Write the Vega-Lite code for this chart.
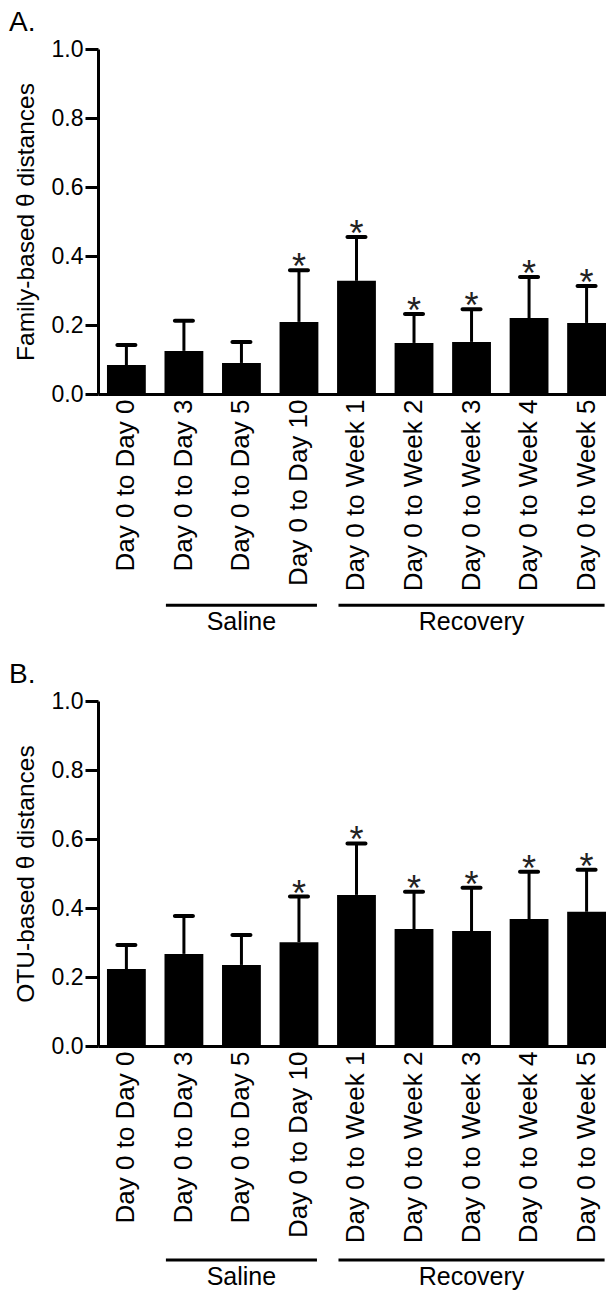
{
  "$schema": "https://vega.github.io/schema/vega-lite/v6.json",
  "padding": {"left": 9, "top": 9, "right": 0, "bottom": 0},
  "background": "white",
  "spacing": 26,
  "config": {
    "view": {"stroke": null},
    "font": "Liberation Sans",
    "tick": {"opacity": 1},
    "axis": {"domainColor": "black", "domainWidth": 3, "tickColor": "black", "tickWidth": 3, "labelColor": "black", "titleColor": "black", "labelFont": "Liberation Sans", "titleFont": "Liberation Sans", "grid": false, "titleFontWeight": "normal"},
    "title": {"font": "Liberation Sans", "fontSize": 28, "fontWeight": "normal", "color": "black", "anchor": "start", "frame": "bounds", "offset": 1, "dx": -4}
  },
  "datasets": {
    "A": [
      {"cond": "Day 0 to Day 0", "mean": 0.084, "upper": 0.142, "star": ""},
      {"cond": "Day 0 to Day 3", "mean": 0.125, "upper": 0.212, "star": ""},
      {"cond": "Day 0 to Day 5", "mean": 0.090, "upper": 0.151, "star": ""},
      {"cond": "Day 0 to Day 10", "mean": 0.209, "upper": 0.359, "star": "*"},
      {"cond": "Day 0 to Week 1", "mean": 0.328, "upper": 0.455, "star": "*"},
      {"cond": "Day 0 to Week 2", "mean": 0.148, "upper": 0.232, "star": "*"},
      {"cond": "Day 0 to Week 3", "mean": 0.151, "upper": 0.246, "star": "*"},
      {"cond": "Day 0 to Week 4", "mean": 0.220, "upper": 0.339, "star": "*"},
      {"cond": "Day 0 to Week 5", "mean": 0.206, "upper": 0.313, "star": "*"}
    ],
    "B": [
      {"cond": "Day 0 to Day 0", "mean": 0.223, "upper": 0.293, "star": ""},
      {"cond": "Day 0 to Day 3", "mean": 0.267, "upper": 0.377, "star": ""},
      {"cond": "Day 0 to Day 5", "mean": 0.235, "upper": 0.322, "star": ""},
      {"cond": "Day 0 to Day 10", "mean": 0.301, "upper": 0.433, "star": "*"},
      {"cond": "Day 0 to Week 1", "mean": 0.438, "upper": 0.587, "star": "*"},
      {"cond": "Day 0 to Week 2", "mean": 0.339, "upper": 0.447, "star": "*"},
      {"cond": "Day 0 to Week 3", "mean": 0.333, "upper": 0.459, "star": "*"},
      {"cond": "Day 0 to Week 4", "mean": 0.368, "upper": 0.505, "star": "*"},
      {"cond": "Day 0 to Week 5", "mean": 0.389, "upper": 0.511, "star": "*"}
    ],
    "groups": [
      {"cond": "Day 0 to Day 3", "cond_end": "Day 0 to Day 10", "label_at": "Day 0 to Day 5", "name": "Saline"},
      {"cond": "Day 0 to Week 1", "cond_end": "Day 0 to Week 5", "label_at": "Day 0 to Week 3", "name": "Recovery"}
    ]
  },
  "vconcat": [
    {
      "title": {"text": "A."},
      "width": 508,
      "height": 345,
      "layer": [
        {
          "data": {"name": "A"},
          "mark": {"type": "bar", "color": "black"},
          "encoding": {
            "x": {"field": "cond", "type": "nominal",
              "scale": {"domain": ["Day 0 to Day 0", "Day 0 to Day 3", "Day 0 to Day 5", "Day 0 to Day 10", "Day 0 to Week 1", "Day 0 to Week 2", "Day 0 to Week 3", "Day 0 to Week 4", "Day 0 to Week 5"], "paddingInner": 0.325, "paddingOuter": 0.078, "align": 1},
              "axis": {"title": null, "labelAngle": 270, "labelAlign": "right", "labelBaseline": "middle", "labelFontSize": 26, "labelPadding": 5, "ticks": false, "labelLimit": 0}},
            "y": {"field": "mean", "type": "quantitative",
              "scale": {"domain": [0, 1], "nice": false},
              "axis": {"title": "Family-based θ distances", "values": [0, 0.2, 0.4, 0.6, 0.8, 1], "format": ".1f", "tickSize": 13, "labelFontSize": 23, "labelPadding": 2, "titleFontSize": 24.5, "titlePadding": 13}}
          }
        },
        {
          "data": {"name": "A"},
          "mark": {"type": "rule", "strokeWidth": 3, "color": "black"},
          "encoding": {
            "x": {"field": "cond", "type": "nominal"},
            "y": {"field": "mean", "type": "quantitative"},
            "y2": {"field": "upper"}
          }
        },
        {
          "data": {"name": "A"},
          "mark": {"type": "tick", "size": 22, "thickness": 4, "color": "black", "opacity": 1, "cornerRadius": 2},
          "encoding": {
            "x": {"field": "cond", "type": "nominal"},
            "y": {"field": "upper", "type": "quantitative"}
          }
        },
        {
          "data": {"name": "A"},
          "mark": {"type": "text", "fontSize": 36, "baseline": "alphabetic", "dy": 9, "color": "#222222"},
          "encoding": {
            "x": {"field": "cond", "type": "nominal"},
            "y": {"field": "upper", "type": "quantitative"},
            "text": {"field": "star"}
          }
        },
        {
          "data": {"name": "groups"},
          "mark": {"type": "rule", "strokeWidth": 3, "color": "black", "xOffset": -18, "x2Offset": 18},
          "encoding": {
            "x": {"field": "cond", "type": "nominal"},
            "x2": {"field": "cond_end"},
            "y": {"datum": -0.612, "type": "quantitative"}
          }
        },
        {
          "data": {"name": "groups"},
          "mark": {"type": "text", "fontSize": 25, "baseline": "middle", "color": "black"},
          "encoding": {
            "x": {"field": "label_at", "type": "nominal"},
            "y": {"datum": -0.66, "type": "quantitative"},
            "text": {"field": "name"}
          }
        }
      ]
    },
    {
      "title": {"text": "B."},
      "width": 508,
      "height": 345,
      "layer": [
        {
          "data": {"name": "B"},
          "mark": {"type": "bar", "color": "black"},
          "encoding": {
            "x": {"field": "cond", "type": "nominal",
              "scale": {"domain": ["Day 0 to Day 0", "Day 0 to Day 3", "Day 0 to Day 5", "Day 0 to Day 10", "Day 0 to Week 1", "Day 0 to Week 2", "Day 0 to Week 3", "Day 0 to Week 4", "Day 0 to Week 5"], "paddingInner": 0.325, "paddingOuter": 0.078, "align": 1},
              "axis": {"title": null, "labelAngle": 270, "labelAlign": "right", "labelBaseline": "middle", "labelFontSize": 26, "labelPadding": 5, "ticks": false, "labelLimit": 0}},
            "y": {"field": "mean", "type": "quantitative",
              "scale": {"domain": [0, 1], "nice": false},
              "axis": {"title": "OTU-based θ distances", "values": [0, 0.2, 0.4, 0.6, 0.8, 1], "format": ".1f", "tickSize": 13, "labelFontSize": 23, "labelPadding": 2, "titleFontSize": 24.5, "titlePadding": 13}}
          }
        },
        {
          "data": {"name": "B"},
          "mark": {"type": "rule", "strokeWidth": 3, "color": "black"},
          "encoding": {
            "x": {"field": "cond", "type": "nominal"},
            "y": {"field": "mean", "type": "quantitative"},
            "y2": {"field": "upper"}
          }
        },
        {
          "data": {"name": "B"},
          "mark": {"type": "tick", "size": 22, "thickness": 4, "color": "black", "opacity": 1, "cornerRadius": 2},
          "encoding": {
            "x": {"field": "cond", "type": "nominal"},
            "y": {"field": "upper", "type": "quantitative"}
          }
        },
        {
          "data": {"name": "B"},
          "mark": {"type": "text", "fontSize": 36, "baseline": "alphabetic", "dy": 9, "color": "#222222"},
          "encoding": {
            "x": {"field": "cond", "type": "nominal"},
            "y": {"field": "upper", "type": "quantitative"},
            "text": {"field": "star"}
          }
        },
        {
          "data": {"name": "groups"},
          "mark": {"type": "rule", "strokeWidth": 3, "color": "black", "xOffset": -18, "x2Offset": 18},
          "encoding": {
            "x": {"field": "cond", "type": "nominal"},
            "x2": {"field": "cond_end"},
            "y": {"datum": -0.62, "type": "quantitative"}
          }
        },
        {
          "data": {"name": "groups"},
          "mark": {"type": "text", "fontSize": 25, "baseline": "middle", "color": "black"},
          "encoding": {
            "x": {"field": "label_at", "type": "nominal"},
            "y": {"datum": -0.67, "type": "quantitative"},
            "text": {"field": "name"}
          }
        }
      ]
    }
  ]
}
